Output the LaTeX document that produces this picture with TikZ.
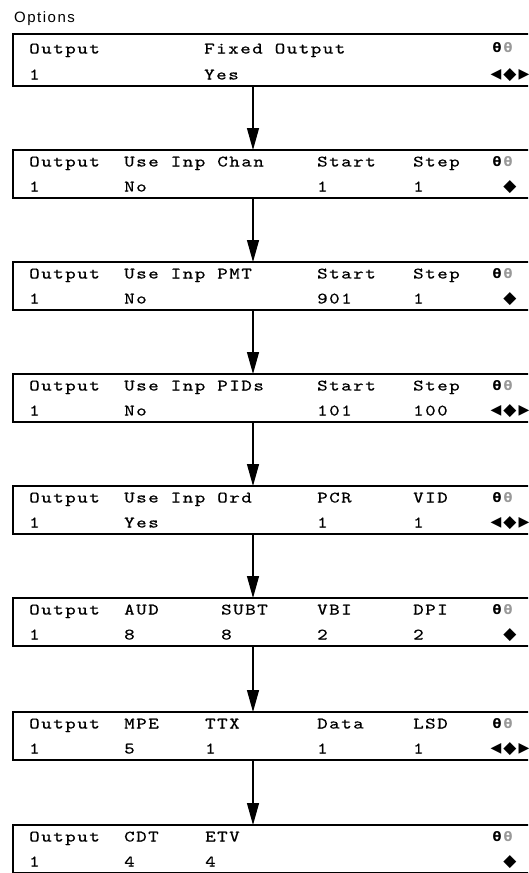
\documentclass[tikz,border=0pt]{standalone}
\usepackage{fontspec}
\usetikzlibrary{arrows.meta}
\newfontfamily\lcdfont{lmmono10-regular}[Extension=.otf, FakeStretch=1.25, LetterSpace=9.5, FakeBold=0.6]
\newfontfamily\optfont[LetterSpace=10]{Liberation Sans}
\newfontfamily\symfont{DejaVu Sans}
\newcommand{\lcdtxt}[4]{\node[lcd] (#1) at (#2,#3) {#4};}
\tikzset{
  panel/.style={draw=black, line width=1.8pt, fill=white, anchor=north west,
    minimum width=530pt, minimum height=48pt, inner sep=0pt, outer sep=0pt},
  lcd/.style={anchor=base west, inner sep=0pt, font=\lcdfont\fontsize{16}{16}\selectfont},
  iconA/.style={anchor=center, inner sep=0pt, font=\symfont\bfseries\fontsize{13}{13}\selectfont},
  iconB/.style={iconA, text=black!40},
  navtri/.style={anchor=center, inner sep=0pt, font=\symfont\fontsize{14}{14}\selectfont},
  navdia/.style={anchor=center, inner sep=0pt, font=\symfont\fontsize{17}{17}\selectfont},
  flow/.style={-{Triangle[length=22pt,width=12pt]}, line width=1.2pt},
  opts/.style={anchor=base west, inner sep=0pt, font=\optfont\fontsize{15}{15}\selectfont}
}
\newcommand{\icons}[2]{%
  \node[iconA] (#1a) at (497,#2) {θ};
  \node[iconB] (#1b) at (508,#2) {θ};}
\newcommand{\navall}[2]{%
  \node[navtri] (#1l) at (496,#2) {◀};
  \node[navdia] (#1d) at (510,#2) {◆};
  \node[navtri] (#1r) at (524,#2) {▶};}
\newcommand{\navone}[2]{%
  \node[navdia] (#1d) at (510,#2) {◆};}
\begin{document}
\begin{tikzpicture}[x=1pt,y=-1pt]
\useasboundingbox (0,0) rectangle (528,873);
\clip (0,0) rectangle (528,873);
\fill[white] (0,0) rectangle (528,873);
\coordinate (ax) at (253,0);

\node[opts] (opt) at (14,22) {Options};

% Box 1
\node[panel, minimum height=52pt] (b1) at (13,34) {};
\lcdtxt{b1o}{29}{53.5}{Output}
\lcdtxt{b1f}{204}{53.5}{Fixed Output}
\lcdtxt{b1v}{29}{79.5}{1}
\lcdtxt{b1y}{204}{79.5}{Yes}
\icons{b1i}{48}
\navall{b1n}{75}

% Box 2
\node[panel] (b2) at (13,150) {};
\lcdtxt{b2o}{29}{166.5}{Output}
\lcdtxt{b2u}{124}{166.5}{Use Inp Chan}
\lcdtxt{b2s}{317}{166.5}{Start}
\lcdtxt{b2t}{413}{166.5}{Step}
\lcdtxt{b2v}{29}{191.5}{1}
\lcdtxt{b2w}{124}{191.5}{No}
\lcdtxt{b2x}{317}{191.5}{1}
\lcdtxt{b2z}{413}{191.5}{1}
\icons{b2i}{162}
\navone{b2n}{187}

% Box 3
\node[panel] (b3) at (13,262) {};
\lcdtxt{b3o}{29}{278.5}{Output}
\lcdtxt{b3u}{124}{278.5}{Use Inp PMT}
\lcdtxt{b3s}{317}{278.5}{Start}
\lcdtxt{b3t}{413}{278.5}{Step}
\lcdtxt{b3v}{29}{303.5}{1}
\lcdtxt{b3w}{124}{303.5}{No}
\lcdtxt{b3x}{317}{303.5}{901}
\lcdtxt{b3z}{413}{303.5}{1}
\icons{b3i}{274}
\navone{b3n}{299}

% Box 4
\node[panel] (b4) at (13,374) {};
\lcdtxt{b4o}{29}{390.5}{Output}
\lcdtxt{b4u}{124}{390.5}{Use Inp PIDs}
\lcdtxt{b4s}{317}{390.5}{Start}
\lcdtxt{b4t}{413}{390.5}{Step}
\lcdtxt{b4v}{29}{415.5}{1}
\lcdtxt{b4w}{124}{415.5}{No}
\lcdtxt{b4x}{317}{415.5}{101}
\lcdtxt{b4z}{413}{415.5}{100}
\icons{b4i}{386}
\navall{b4n}{411}

% Box 5
\node[panel] (b5) at (13,486) {};
\lcdtxt{b5o}{29}{502.5}{Output}
\lcdtxt{b5u}{124}{502.5}{Use Inp Ord}
\lcdtxt{b5s}{317}{502.5}{PCR}
\lcdtxt{b5t}{413}{502.5}{VID}
\lcdtxt{b5v}{29}{527.5}{1}
\lcdtxt{b5w}{124}{527.5}{Yes}
\lcdtxt{b5x}{317}{527.5}{1}
\lcdtxt{b5z}{413}{527.5}{1}
\icons{b5i}{498}
\navall{b5n}{523}

% Box 6
\node[panel] (b6) at (13,598) {};
\lcdtxt{b6o}{29}{614.5}{Output}
\lcdtxt{b6a}{124}{614.5}{AUD}
\lcdtxt{b6b}{221}{614.5}{SUBT}
\lcdtxt{b6c}{317}{614.5}{VBI}
\lcdtxt{b6d}{413}{614.5}{DPI}
\lcdtxt{b6v}{29}{639.5}{1}
\lcdtxt{b6w}{124}{639.5}{8}
\lcdtxt{b6x}{221}{639.5}{8}
\lcdtxt{b6y}{317}{639.5}{2}
\lcdtxt{b6z}{413}{639.5}{2}
\icons{b6i}{610}
\navone{b6n}{635}

% Box 7
\node[panel] (b7) at (13,712) {};
\lcdtxt{b7o}{29}{728.5}{Output}
\lcdtxt{b7a}{124}{728.5}{MPE}
\lcdtxt{b7b}{205}{728.5}{TTX}
\lcdtxt{b7c}{317}{728.5}{Data}
\lcdtxt{b7d}{413}{728.5}{LSD}
\lcdtxt{b7v}{29}{753.5}{1}
\lcdtxt{b7w}{124}{753.5}{5}
\lcdtxt{b7x}{205}{753.5}{1}
\lcdtxt{b7y}{317}{753.5}{1}
\lcdtxt{b7z}{413}{753.5}{1}
\icons{b7i}{724}
\navall{b7n}{749}

% Box 8
\node[panel] (b8) at (13,825) {};
\lcdtxt{b8o}{29}{841.5}{Output}
\lcdtxt{b8a}{124}{841.5}{CDT}
\lcdtxt{b8b}{205}{841.5}{ETV}
\lcdtxt{b8v}{29}{866.5}{1}
\lcdtxt{b8w}{124}{866.5}{4}
\lcdtxt{b8x}{205}{866.5}{4}
\icons{b8i}{837}
\navone{b8n}{862}

% Connectors
\draw[flow] (b1.south -| ax) -- (b2.north -| ax);
\draw[flow] (b2.south -| ax) -- (b3.north -| ax);
\draw[flow] (b3.south -| ax) -- (b4.north -| ax);
\draw[flow] (b4.south -| ax) -- (b5.north -| ax);
\draw[flow] (b5.south -| ax) -- (b6.north -| ax);
\draw[flow] (b6.south -| ax) -- (b7.north -| ax);
\draw[flow] (b7.south -| ax) -- (b8.north -| ax);
\end{tikzpicture}
\end{document}
